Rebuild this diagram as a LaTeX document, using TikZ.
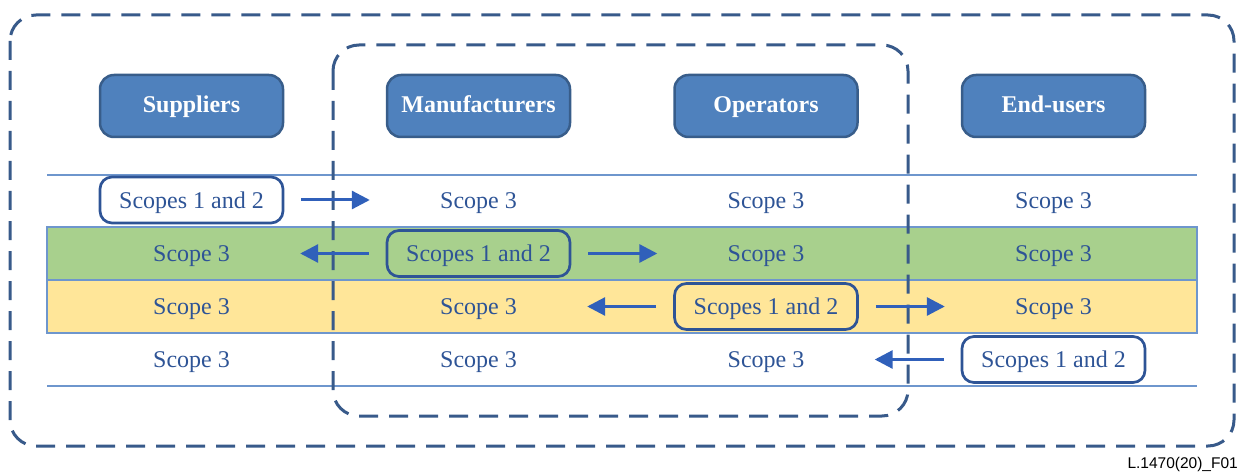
\documentclass[tikz,border=0pt]{standalone}
\usepackage{fontspec}
\setmainfont{Liberation Serif}
\newfontfamily\capfont{Liberation Sans}
\usetikzlibrary{arrows.meta}
\definecolor{hdrfill}{RGB}{79,129,189}
\definecolor{hdrdraw}{RGB}{56,93,138}
\definecolor{scopeblue}{RGB}{46,84,150}
\definecolor{dashblue}{RGB}{56,90,138}
\definecolor{arrowblue}{RGB}{48,96,186}
\definecolor{rulblue}{RGB}{110,150,205}
\definecolor{bandgreen}{RGB}{168,208,141}
\definecolor{bandyellow}{RGB}{255,230,153}
\begin{document}
\begin{tikzpicture}[x=1pt,y=-1pt,
  header/.style={draw=hdrdraw, line width=2.5pt, fill=hdrfill, rounded corners=14pt,
    minimum width=183pt, minimum height=62pt, text=white, inner sep=0pt,
    text height=19pt, text depth=5pt,
    font=\fontsize{24}{28}\selectfont\bfseries},
  cell/.style={minimum width=183pt, minimum height=46pt, text=scopeblue, inner sep=0pt,
    text height=20pt, text depth=4pt,
    font=\fontsize{24}{28}\selectfont},
  own/.style={cell, draw=scopeblue, line width=2.7pt, rounded corners=12pt},
  flow/.style={draw=arrowblue, line width=3pt, -{Triangle[length=18pt,width=18pt]}},
  group/.style={draw=dashblue, line width=3pt, dash pattern=on 19pt off 11pt, rounded corners=26pt},
  rulerline/.style={draw=rulblue, line width=1.2pt}
]
\useasboundingbox (0,0) rectangle (1239,473);

% row bands and rules
\fill[bandgreen] (47,227) rectangle (1197,280);
\fill[bandyellow] (47,280) rectangle (1197,333);
\draw[rulerline] (47,227) rectangle (1197,280);
\draw[rulerline] (47,280) rectangle (1197,333);
\draw[rulerline] (47,175) -- (1197,175);
\draw[rulerline] (47,386) -- (1197,386);

% grouping frames
\draw[group] (10,15) rectangle (1234,446);
\draw[group] (333,45) rectangle (908,416);

% column headers
\node[header] (h1) at (191.5,106) {Suppliers};
\node[header] (h2) at (478.5,106) {Manufacturers};
\node[header] (h3) at (766,106) {Operators};
\node[header] (h4) at (1053.5,106) {End-users};

% row 1
\node[own]  (c11) at (191.5,200) {Scopes 1 and 2};
\node[cell] (c12) at (478.5,200) {Scope 3};
\node[cell] (c13) at (766,200) {Scope 3};
\node[cell] (c14) at (1053.5,200) {Scope 3};
% row 2
\node[cell] (c21) at (191.5,253.5) {Scope 3};
\node[own]  (c22) at (478.5,253.5) {Scopes 1 and 2};
\node[cell] (c23) at (766,253.5) {Scope 3};
\node[cell] (c24) at (1053.5,253.5) {Scope 3};
% row 3
\node[cell] (c31) at (191.5,306.5) {Scope 3};
\node[cell] (c32) at (478.5,306.5) {Scope 3};
\node[own]  (c33) at (766,306.5) {Scopes 1 and 2};
\node[cell] (c34) at (1053.5,306.5) {Scope 3};
% row 4
\node[cell] (c41) at (191.5,359.5) {Scope 3};
\node[cell] (c42) at (478.5,359.5) {Scope 3};
\node[cell] (c43) at (766,359.5) {Scope 3};
\node[own]  (c44) at (1053.5,359.5) {Scopes 1 and 2};

% flows between value-chain actors
\draw[flow] ([xshift=17pt]c11.east) -- ([xshift=-17pt]c12.west);
\draw[flow] ([xshift=-17pt]c22.west) -- ([xshift=17pt]c21.east);
\draw[flow] ([xshift=17pt]c22.east) -- ([xshift=-17pt]c23.west);
\draw[flow] ([xshift=-17pt]c33.west) -- ([xshift=17pt]c32.east);
\draw[flow] ([xshift=17pt]c33.east) -- ([xshift=-17pt]c34.west);
\draw[flow] ([xshift=-17pt]c44.west) -- ([xshift=17pt]c43.east);

% figure tag
\node[anchor=east, inner sep=0pt, font=\capfont\fontsize{15.5}{18}\selectfont] (tag) at (1238,464) {L.1470(20)\_F01};
\end{tikzpicture}
\end{document}
